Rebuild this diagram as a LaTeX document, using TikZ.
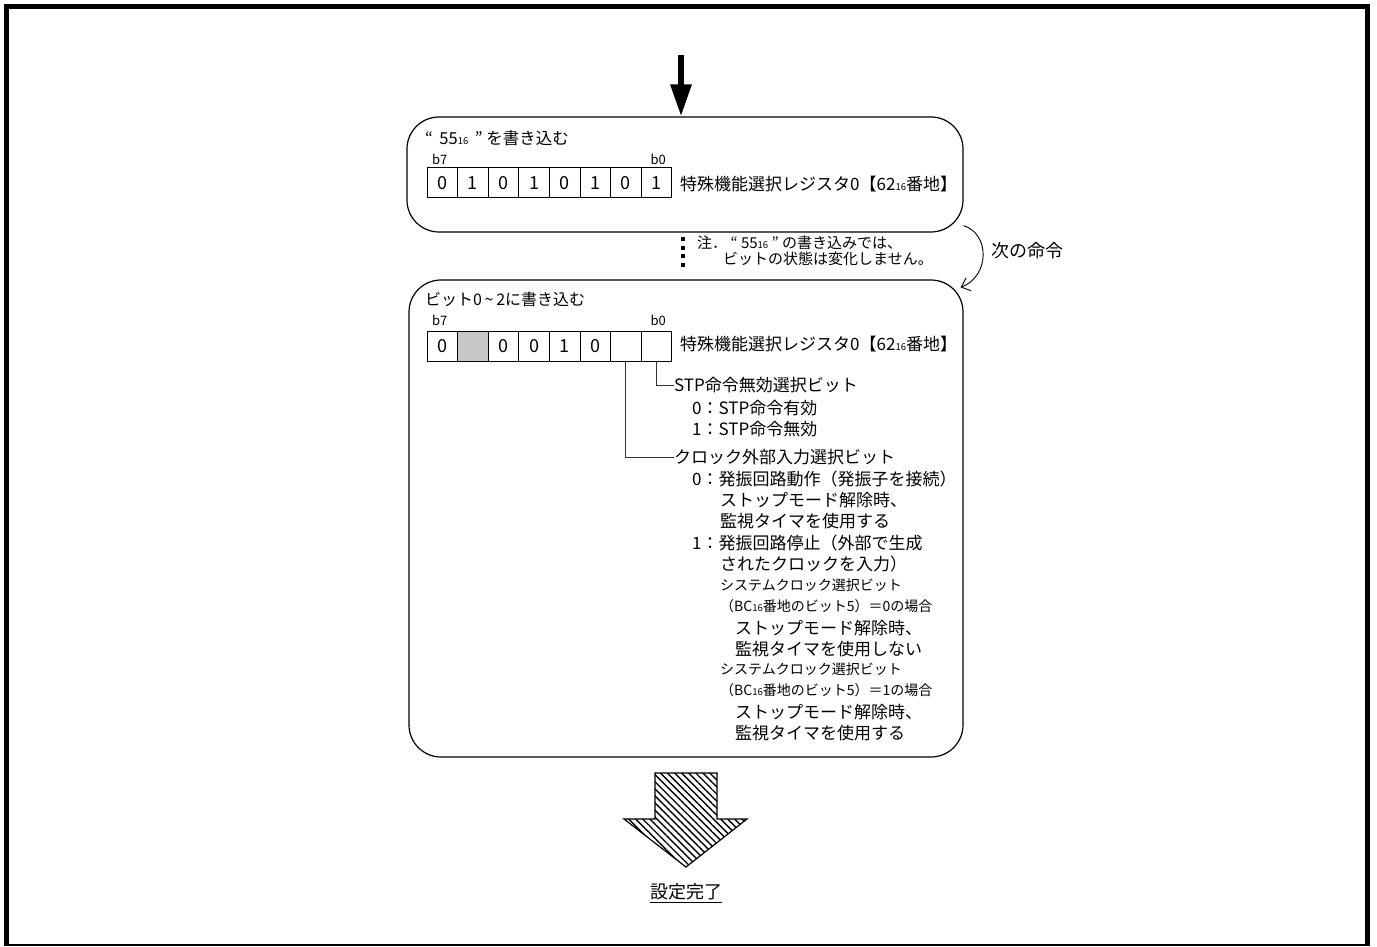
\documentclass[tikz,border=0pt]{standalone}
\usepackage{fontspec}
\setmainfont{Noto Sans CJK JP}
\usetikzlibrary{arrows.meta,patterns.meta}
\newcommand\hxs[1]{{\fontsize{9.5}{9.5}\selectfont #1}}
\definecolor{cellgray}{RGB}{200,200,200}
\begin{document}
\begin{tikzpicture}[x=1pt,y=-1pt,
  txt/.style={anchor=west,inner sep=0pt,text height=15pt,text depth=2.1pt,font=\fontsize{17}{17}\selectfont},
  smalltxt/.style={anchor=west,inner sep=0pt,text height=12.3pt,text depth=1.7pt,font=\fontsize{14}{14}\selectfont},
  notetxt/.style={anchor=west,inner sep=0pt,text height=13.2pt,text depth=1.8pt,font=\fontsize{15}{15}\selectfont},
  headtxt/.style={anchor=west,inner sep=0pt,text height=14pt,text depth=2pt,font=\fontsize{16}{16}\selectfont},
  bitlbl/.style={inner sep=0pt,font=\fontsize{13}{13}\selectfont},
  cell/.style={draw,line width=1pt,minimum width=30.6pt,minimum height=30pt,inner sep=0pt,font=\fontsize{18}{18}\selectfont},
  box/.style={draw,line width=1.2pt,rounded corners=32pt},
  conn/.style={line width=0.9pt,draw=black!80}]
\useasboundingbox (0,0) rectangle (1377,947);
% frame
\draw[line width=5pt] (6.5,945) -- (6.5,6.5) -- (1367.5,6.5) -- (1367.5,945);
\draw[line width=1.5pt] (4,945) -- (1370,945);

% top box
\node[box,minimum width=556pt,minimum height=115pt] (topbox) at (685,174.5) {};
\coordinate (start) at (681,55);
\draw[line width=6pt,-{Triangle[length=32pt,width=20pt]}] (start) -- (start |- topbox.north);
\node[headtxt,font=\fontsize{16.5}{16.5}\selectfont] (t1) at (425,139) {“\ \,55\hxs{16}\ \,”\ を書き込む};
\node[bitlbl,anchor=west] (tb7) at (432,159) {b7};
\node[bitlbl,anchor=east] (tb0) at (666,159) {b0};
\foreach \v [count=\i from 0] in {0,1,0,1,0,1,0,1}
  \node[cell] (tc\i) at ({442.3+30.6*\i},183) {\v};
\node[txt] (treg) at (680,184) {特殊機能選択レジスタ0【62\hxs{16}番地】};

% bottom box
\node[box,minimum width=554pt,minimum height=477pt] (botbox) at (686,518.5) {};

% next instruction arrow
\draw[line width=0.9pt,-{Straight Barb[length=8pt,width=14pt]}]
  ([yshift=7pt]topbox.south east) .. controls (990,234) and (990,276) .. ([xshift=-3pt,yshift=-8pt]botbox.north east);
\node[txt,font=\fontsize{18}{18}\selectfont] (next) at (991,251) {次の命令};

% note
\coordinate (dt) at (683,237);
\coordinate (db) at (683,270);
\draw[line width=4pt,dash pattern=on 4pt off 4.5pt] (dt) -- (db);
\node[notetxt] (n1) at (697,243) {注． “ 55\hxs{16} ” の書き込みでは、};
\node[notetxt] (n2) at (723,259) {ビットの状態は変化しません。};

% bottom box contents
\node[headtxt] (bt1) at (425,299) {ビット0\,\char"007E\,2に書き込む};
\node[bitlbl,anchor=west] (bb7) at (432,320) {b7};
\node[bitlbl,anchor=east] (bb0) at (666,320) {b0};
\node[cell] (bc0) at (442.3,346) {0};
\node[cell,fill=cellgray] (bc1) at (472.9,346) {};
\node[cell] (bc2) at (503.5,346) {0};
\node[cell] (bc3) at (534.1,346) {0};
\node[cell] (bc4) at (564.7,346) {1};
\node[cell] (bc5) at (595.3,346) {0};
\node[cell] (bc6) at (625.9,346) {};
\node[cell] (bc7) at (656.5,346) {};
\node[txt] (breg) at (680,344) {特殊機能選択レジスタ0【62\hxs{16}番地】};

\node[txt] (stp) at (674,385) {STP命令無効選択ビット};
\draw[conn] (bc7.south) |- (stp.west);
\node[txt] (s0) at (692,408) {0：STP命令有効};
\node[txt] (s1) at (692,429) {1：STP命令無効};
\node[txt] (clk) at (674,457) {クロック外部入力選択ビット};
\draw[conn] (bc6.south) |- (clk.west);
\node[txt] (c0) at (692,479) {0：発振回路動作（発振子を接続）};
\node[txt] (c0a) at (720,500) {ストップモード解除時、};
\node[txt] (c0b) at (720,521) {監視タイマを使用する};
\node[txt] (c1) at (692,543) {1：発振回路停止（外部で生成};
\node[txt] (c1a) at (720,564) {されたクロックを入力）};
\node[smalltxt] (c1b) at (720,585) {システムクロック選択ビット};
\node[smalltxt] (c1c) at (720,606) {（BC\hxs{16}番地のビット5）＝0の場合};
\node[txt] (c1d) at (735,628) {ストップモード解除時、};
\node[txt] (c1e) at (735,649) {監視タイマを使用しない};
\node[smalltxt] (c1f) at (720,669) {システムクロック選択ビット};
\node[smalltxt] (c1g) at (720,690) {（BC\hxs{16}番地のビット5）＝1の場合};
\node[txt] (c1h) at (735,712) {ストップモード解除時、};
\node[txt] (c1i) at (735,733) {監視タイマを使用する};

% done arrow
\draw[line width=1.2pt,pattern={Lines[angle=-45,distance=5pt,line width=1.4pt]}]
  (655,773) -- (717,773) -- (717,819) -- (747,819) -- (686,867) -- (624,819) -- (655,819) -- cycle;
\node[inner sep=0pt,font=\fontsize{18}{18}\selectfont] (done) at (686,893) {\underline{設定完了}};
\end{tikzpicture}
\end{document}
